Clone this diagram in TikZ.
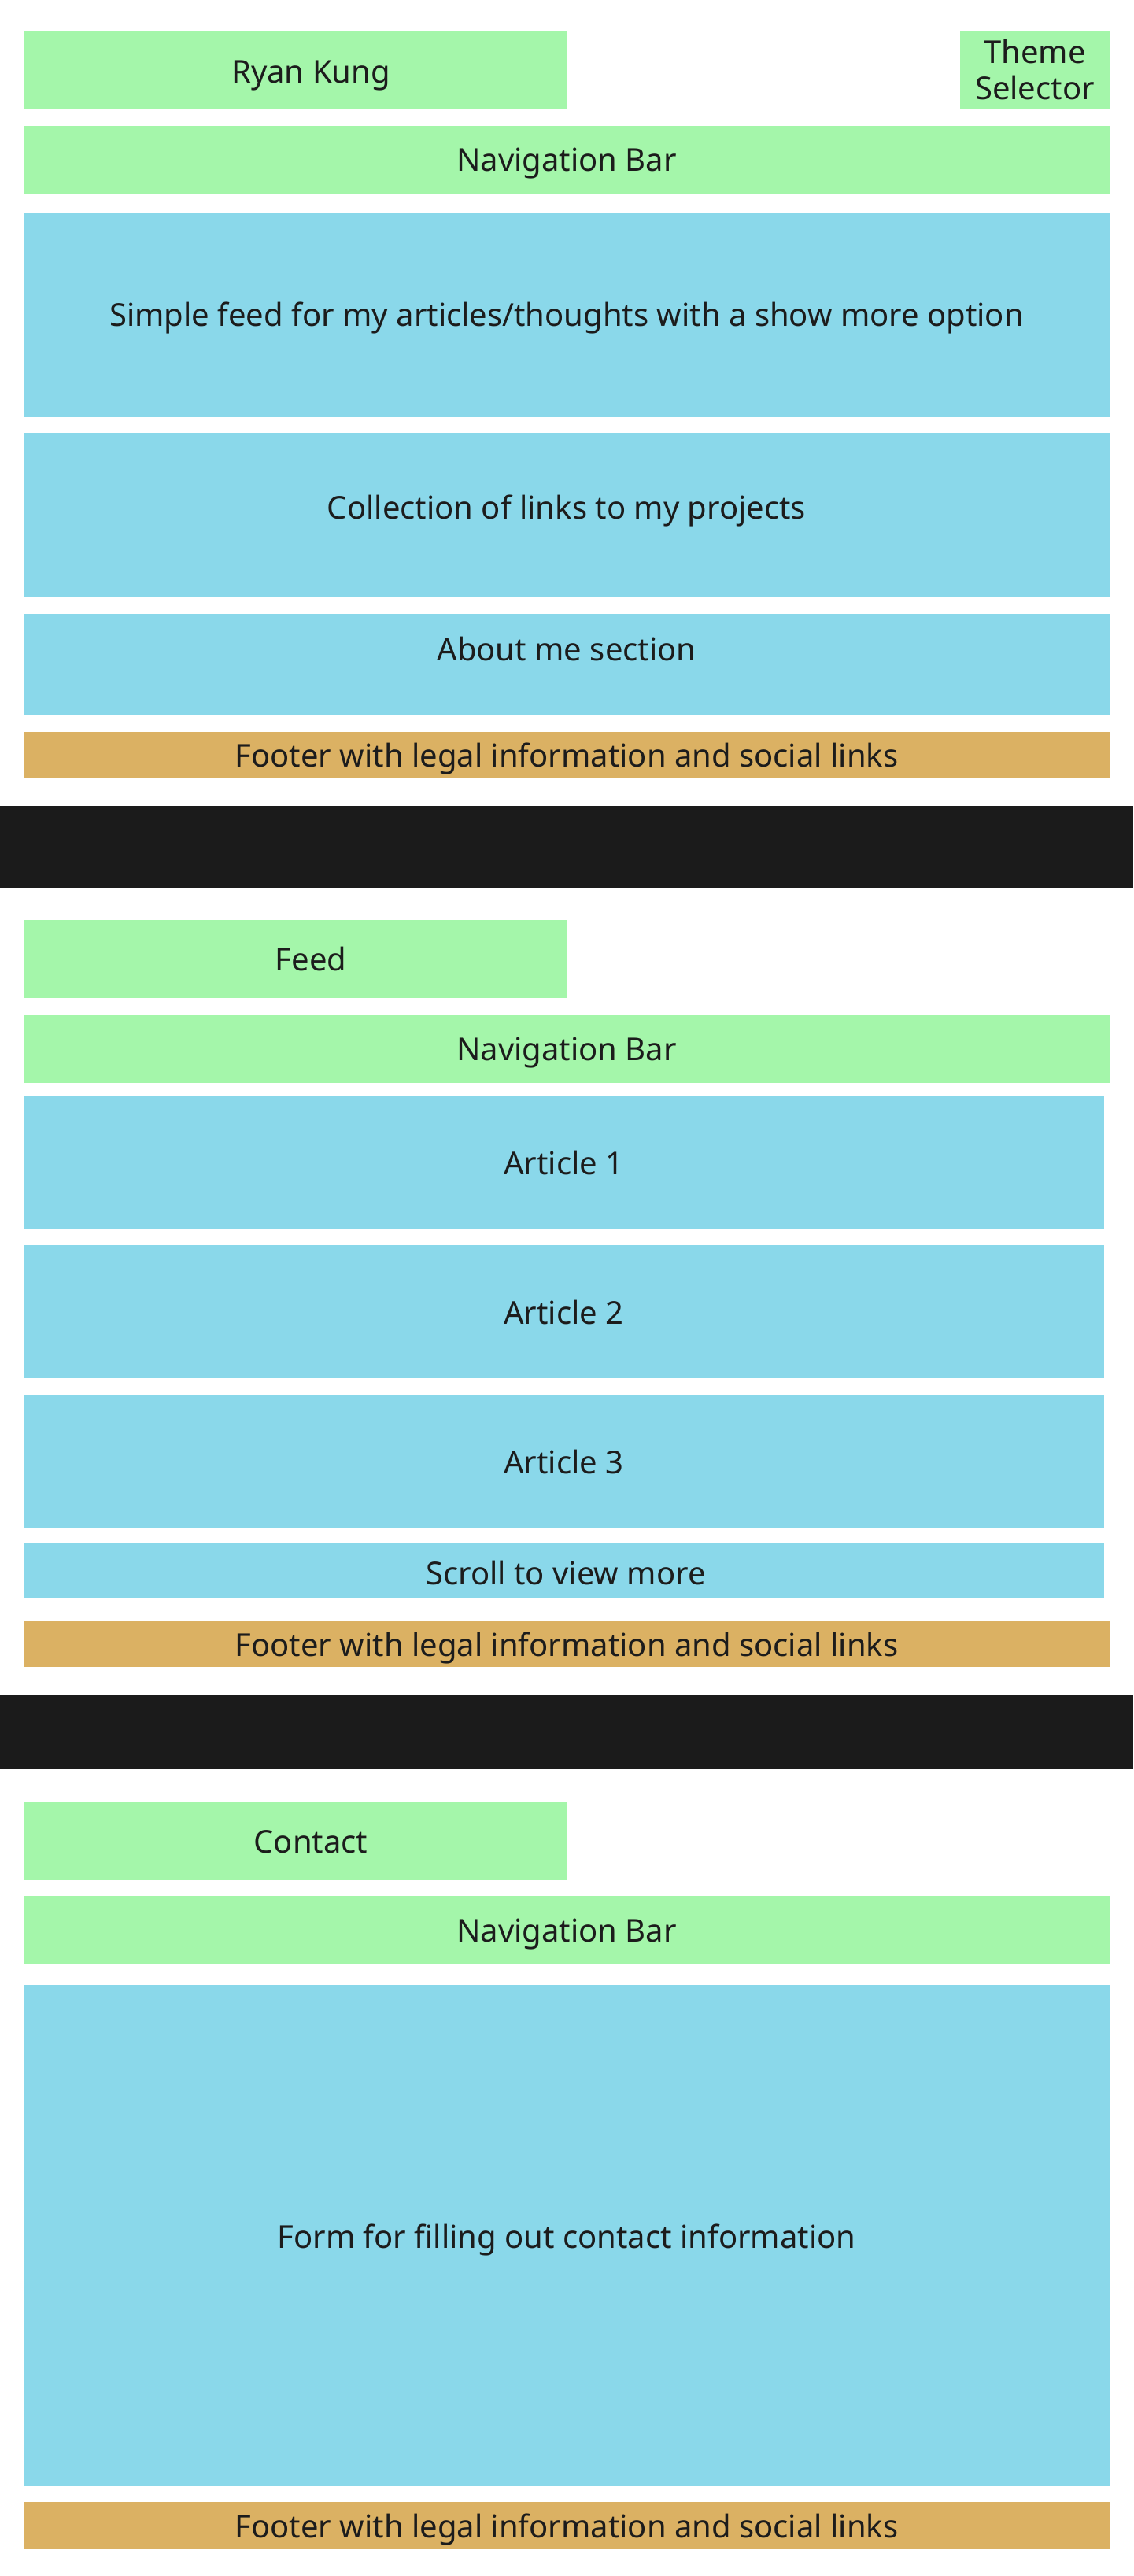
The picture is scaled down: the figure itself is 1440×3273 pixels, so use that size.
\documentclass[tikz,border=0pt]{standalone}
\usepackage{fontspec}
\setmainfont{Noto Sans}
\definecolor{gbox}{RGB}{164,246,170}
\definecolor{bbox}{RGB}{138,216,234}
\definecolor{obox}{RGB}{219,177,99}
\definecolor{dbar}{RGB}{27,27,27}
\definecolor{txt}{RGB}{28,28,28}
\tikzset{
  panel/.style={draw=none, inner sep=0pt, outer sep=0pt, anchor=north west},
  greenbox/.style={panel, fill=gbox},
  bluebox/.style={panel, fill=bbox},
  footbox/.style={panel, fill=obox},
  darkbar/.style={panel, fill=dbar},
  lbl/.style={inner sep=0pt, outer sep=0pt, text height=28.5pt, text depth=0pt, anchor=center, text=txt, font=\fontsize{40pt}{48pt}\selectfont}
}
\begin{document}
\begin{tikzpicture}[x=1pt,y=-1pt]
\fill[white] (0,0) rectangle (1440,3273);
\useasboundingbox (0,0) rectangle (1440,3273);
% ---------- page 1 ----------
\node[greenbox, minimum width=690pt, minimum height=99pt] (ryan) at (30,40) {};
\node[greenbox, minimum width=190pt, minimum height=99pt] (theme) at (1220,40) {};
\node[greenbox, minimum width=1380pt, minimum height=86pt] (navA) at (30,160) {};
\node[bluebox, minimum width=1380pt, minimum height=259.5pt] (simple) at (30,270) {};
\node[bluebox, minimum width=1380pt, minimum height=209pt] (coll) at (30,550) {};
\node[bluebox, minimum width=1380pt, minimum height=129pt] (about) at (30,780) {};
\node[footbox, minimum width=1380pt, minimum height=59pt] (footA) at (30,930) {};
\node[darkbar, minimum width=1440pt, minimum height=104pt] (barA) at (0,1024) {};
\node[lbl] (ryanT) at (395,91) {Ryan Kung};
\node[lbl] (themeT1) at (1315,66.4) {Theme};
\node[lbl] (themeT2) at (1315,112.4) {Selector};
\node[lbl] (navAT) at (720,203.3) {Navigation Bar};
\node[lbl] (simpleT) at (720,400.5) {Simple feed for my articles/thoughts with a show more option};
\node[lbl] (collT) at (720,645.7) {Collection of links to my projects};
\node[lbl] (aboutT) at (720,825.3) {About me section};
\node[lbl] (footAT) at (720,960.7) {Footer with legal information and social links};
% ---------- page 2 ----------
\node[greenbox, minimum width=690pt, minimum height=99pt] (feed) at (30,1169) {};
\node[greenbox, minimum width=1380pt, minimum height=87pt] (navB) at (30,1289) {};
\node[bluebox, minimum width=1373pt, minimum height=169pt] (art1) at (30,1392) {};
\node[bluebox, minimum width=1373pt, minimum height=169pt] (art2) at (30,1582) {};
\node[bluebox, minimum width=1373pt, minimum height=169pt] (art3) at (30,1772) {};
\node[bluebox, minimum width=1373pt, minimum height=70pt] (scroll) at (30,1961) {};
\node[footbox, minimum width=1380pt, minimum height=59pt] (footB) at (30,2059) {};
\node[darkbar, minimum width=1440pt, minimum height=95pt] (barB) at (0,2153) {};
\node[lbl] (feedT) at (395,1219.6) {Feed};
\node[lbl] (navBT) at (720,1333.3) {Navigation Bar};
\node[lbl] (art1T) at (716.5,1478.3) {Article 1};
\node[lbl] (art2T) at (716.5,1668) {Article 2};
\node[lbl] (art3T) at (716.5,1858) {Article 3};
\node[lbl] (scrollT) at (719,1999) {Scroll to view more};
\node[lbl] (footBT) at (720,2090.2) {Footer with legal information and social links};
% ---------- page 3 ----------
\node[greenbox, minimum width=690pt, minimum height=99.5pt] (contact) at (30,2289) {};
\node[greenbox, minimum width=1380pt, minimum height=86pt] (navC) at (30,2409) {};
\node[bluebox, minimum width=1380pt, minimum height=637pt] (form) at (30,2522) {};
\node[footbox, minimum width=1380pt, minimum height=59.5pt] (footC) at (30,3179) {};
\node[lbl] (contactT) at (395,2340.5) {Contact};
\node[lbl] (navCT) at (720,2453) {Navigation Bar};
\node[lbl] (formT) at (720,2842.6) {Form for filling out contact information};
\node[lbl] (footCT) at (720,3210) {Footer with legal information and social links};
\end{tikzpicture}
\end{document}
